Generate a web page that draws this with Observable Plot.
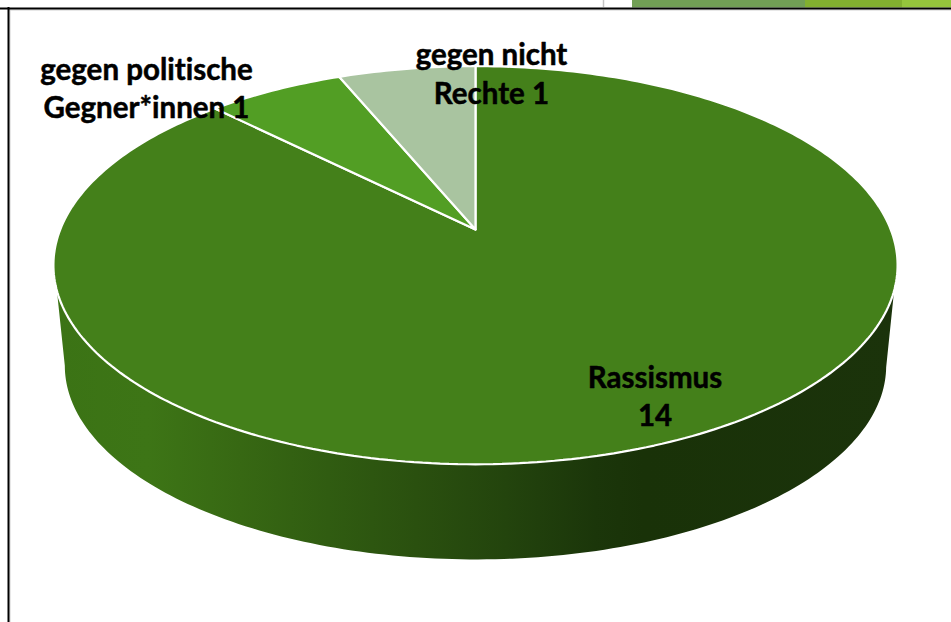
<!DOCTYPE html>
<html>
<head>
<meta charset="utf-8">
<style>html,body{margin:0;padding:0;background:#fff}svg{display:block}svg text{font-variant-ligatures:none}</style>
<script src="https://cdn.jsdelivr.net/npm/d3@7"></script>
<script src="https://cdn.jsdelivr.net/npm/@observablehq/plot@0.6"></script>
</head>
<body>
<div id="chart"></div>
<script>
// Chart values
const categories = ["Rassismus", "gegen politische Gegner*innen", "gegen nicht Rechte"];
const counts = [14, 1, 1];
const sliceColors = ["#44801a", "#529e24", "#a9c4a0"];
const labels = ["Rassismus\n14", "gegen politische\nGegner*innen 1", "gegen nicht\nRechte 1"];

// Layout constants (pixels)
const labelPx = [654.5, 146, 491];
const labelPy = [394, 86, 71.5];
const cx = 475, cy = 229, kx = 414, ky = 192.1, persp = 0.1788;
const rimScale = 1.003, depthScale = 0.976, depthShift = -0.529;
const ux = p => (p - cx) / kx;
const uy = p => (cy - p) / ky;

// Perspective projection of a unit disc; angle clockwise from 12 o'clock
function rim(deg, r = rimScale) {
  const t = deg * Math.PI / 180, u = r * Math.sin(t), v = r * Math.cos(t), w = 1 + persp * v;
  return {x: u / w, y: v / w};
}
const lower = deg => {
  const p = rim(deg, 1);
  return {x: p.x * depthScale, y: p.y * depthScale + depthShift};
};

const total = d3.sum(counts);
const ends = d3.cumsum(counts).map(c => c / total * 360);
const slicePts = categories.flatMap((category, i) => {
  const a0 = i ? ends[i - 1] : 0, a1 = ends[i];
  const steps = d3.range(0, 1.0001, 1 / Math.ceil(a1 - a0)).map(k => a0 + (a1 - a0) * k);
  const apex = {x: 0, y: 0, category};
  return [apex, ...steps.map(a => ({...rim(a), category})), apex];
});

const tangent = Math.acos(-persp) * 180 / Math.PI;
const wallPts = [
  ...d3.range(103, 257.01, 1).map(a => rim(a, 1)),
  ...d3.range(360 - tangent, tangent - 0.01, -1).map(a => lower(a))
];
wallPts.push(wallPts[0]);

const wallStops = [
  [0, "#3b7315"], [0.11, "#3d7516"], [0.22, "#376813"], [0.325, "#305c11"],
  [0.43, "#2a500f"], [0.537, "#23440d"], [0.643, "#1b360a"], [0.7, "#193208"], [1, "#1b330b"]
];
const defs = () => {
  const d = d3.create("svg:defs");
  const g = d.append("linearGradient").attr("id", "wall").attr("x1", 0).attr("x2", 1).attr("y1", 0).attr("y2", 0);
  wallStops.forEach(([o, c]) => g.append("stop").attr("offset", o).attr("stop-color", c));
  return d.node();
};

const strips = [
  {a: 632, b: 805, c: "#719f55"},
  {a: 805, b: 902, c: "#82b02f"},
  {a: 902, b: 951, c: "#95c53c"}
];

const plot = Plot.plot({
  width: 951, height: 622,
  margin: 0,
  style: {background: "#fff"},
  x: {axis: null, domain: [-1, 1], range: [cx - kx, cx + kx]},
  y: {axis: null, domain: [-1, 1], range: [cy + ky, cy - ky]},
  color: {domain: categories, range: sliceColors},
  marks: [
    defs,
    Plot.rect(strips, {x1: d => ux(d.a), x2: d => ux(d.b), y1: uy(0), y2: uy(7.5), fill: "c"}),
    Plot.ruleX([ux(603)], {y1: uy(0), y2: uy(7), stroke: "#c4c4c4", strokeWidth: 1.5}),
    Plot.ruleY([uy(9.5)], {x1: ux(9), x2: ux(951), stroke: "#cfcfcf", strokeWidth: 1}),
    Plot.ruleX([ux(9.5)], {y1: uy(9), y2: uy(622), stroke: "#cfcfcf", strokeWidth: 1}),
    Plot.ruleY([uy(8)], {x1: ux(0), x2: ux(951), stroke: "#000", strokeWidth: 2}),
    Plot.ruleX([ux(8)], {y1: uy(7), y2: uy(622), stroke: "#000", strokeWidth: 2}),
    Plot.line(wallPts, {x: "x", y: "y", fill: "url(#wall)", stroke: "none"}),
    Plot.line(slicePts, {x: "x", y: "y", z: "category", fill: "category", stroke: "#fff", strokeWidth: 2.2, strokeLinejoin: "miter"}),
    Plot.text(labels, {
      x: (d, i) => ux(labelPx[i]),
      y: (d, i) => uy(labelPy[i]),
      text: d => d,
      fontFamily: "Lato",
      fontWeight: 700,
      fontSize: 29.5,
      lineHeight: 1.32,
      fill: "#000",
      stroke: "#000",
      strokeWidth: 0.5
    })
  ]
});
document.getElementById("chart").append(plot);
</script>
</body>
</html>
